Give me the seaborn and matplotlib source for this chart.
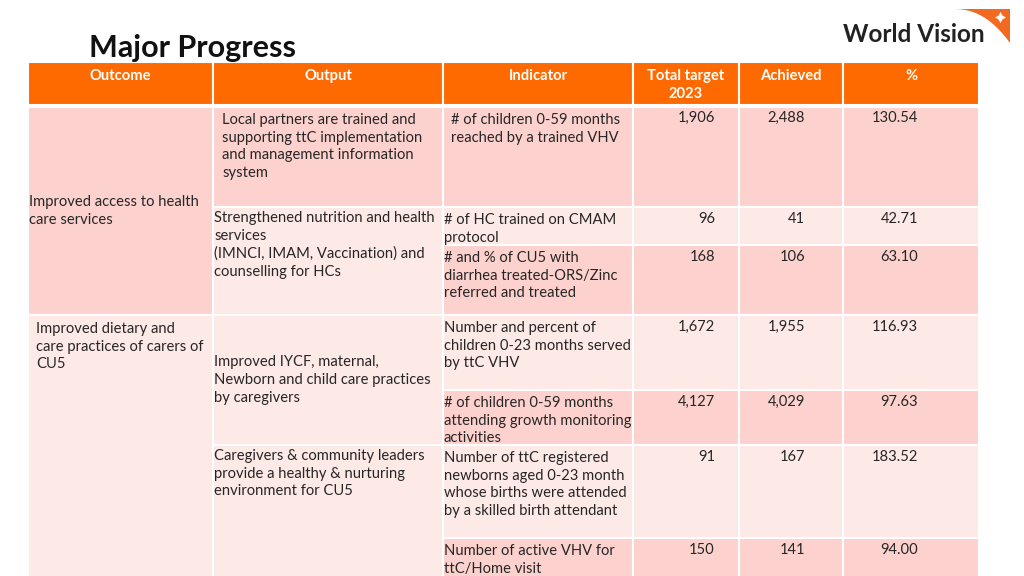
import numpy as np
import matplotlib
matplotlib.use("Agg")
import matplotlib.pyplot as plt
from matplotlib.patches import Polygon
import seaborn as sns

# table content
headers = ["Outcome", "Output", "Indicator", "Total target\n2023", "Achieved", "%"]
outcomes = ["Improved access to health\ncare services",
            "Improved dietary and\ncare practices of carers of\nCU5"]
outputs = ["Local partners are trained and\nsupporting ttC implementation\nand management information\nsystem",
           "Strengthened nutrition and health\nservices\n(IMNCI, IMAM, Vaccination) and\ncounselling for HCs",
           "Improved IYCF, maternal,\nNewborn and child care practices\nby caregivers",
           "Caregivers & community leaders\nprovide a healthy & nurturing\nenvironment for CU5"]
indicators = ["# of children 0-59 months\nreached by a trained VHV",
              "# of HC trained on CMAM\nprotocol",
              "# and % of CU5 with\ndiarrhea treated-ORS/Zinc\nreferred and treated",
              "Number and percent of\nchildren 0-23 months served\nby ttC VHV",
              "# of children 0-59 months\nattending growth monitoring\nactivities",
              "Number of ttC registered\nnewborns aged 0-23 month\nwhose births were attended\nby a skilled birth attendant",
              "Number of active VHV for\nttC/Home visit"]
targets = [1906, 96, 168, 1672, 4127, 91, 150]
achieved = [2488, 41, 106, 1955, 4029, 167, 141]
pct = [130.54, 42.71, 63.10, 116.93, 97.63, 183.52, 94.00]

# which rows each merged cell covers
outcome_rows = [(0, 2), (3, 6)]
output_rows = [(0, 0), (1, 2), (3, 4), (5, 6)]

# layout in pixel units
col_x = [28, 213, 443, 633, 739, 843, 979]
row_y = [107, 207, 245, 315, 390, 445, 538, 580]
head_y = (62, 105)

ORANGE = "#ff6a00"
DARK = "#fdd2ce"
LIGHT = "#fde9e6"
TXT = "#262626"
row_col = [DARK, LIGHT, DARK, LIGHT, DARK, LIGHT, DARK]

sns.set_theme(style="white")
plt.rcParams["font.family"] = ["Lato", "DejaVu Sans"]

fig = plt.figure(figsize=(10.24, 5.76), dpi=100)
ax = fig.add_axes([0, 0, 1, 1])
ax.set_xlim(0, 1024)
ax.set_ylim(576, 0)
ax.axis("off")

FS = 10.6
LS = 1.34


def cell(x0, x1, y0, y1, color):
    ax.bar(x0, y1 - y0, width=x1 - x0, bottom=y0, align="edge",
           color=color, edgecolor="white", linewidth=1.5)


# header
for i, h in enumerate(headers):
    cell(col_x[i], col_x[i + 1], head_y[0], head_y[1], ORANGE)
    ax.text((col_x[i] + col_x[i + 1]) / 2, 69, h, ha="center", va="top",
            color="white", fontsize=FS, fontweight="bold", linespacing=LS)

# indicator + numbers, one per row
for r in range(len(indicators)):
    y0, y1 = row_y[r], row_y[r + 1]
    for c in range(2, 6):
        cell(col_x[c], col_x[c + 1], y0, y1, row_col[r])
    pad = 8 if r == 0 else 1
    ax.text(col_x[2] + pad, y0 + 6, indicators[r], ha="left", va="top",
            color=TXT, fontsize=FS, linespacing=LS)
    ny = y0 + 4 if r == 0 else y0 + 5
    ax.text(715, ny, f"{targets[r]:,}", ha="right", va="top", color=TXT, fontsize=FS)
    ax.text(805, ny, f"{achieved[r]:,}", ha="right", va="top", color=TXT, fontsize=FS)
    ax.text(918, ny, f"{pct[r]:.2f}", ha="right", va="top", color=TXT, fontsize=FS)

# outcome column (merged cells)
for k, (a, b) in enumerate(outcome_rows):
    y0, y1 = row_y[a], row_y[b + 1]
    cell(col_x[0], col_x[1], y0, y1, row_col[a])
    if k == 0:
        ax.text(col_x[0] + 1, (y0 + y1) / 2, outcomes[k], ha="left", va="center",
                color=TXT, fontsize=FS, linespacing=LS)
    else:
        ax.text(col_x[0] + 8, y0 + 7, outcomes[k], ha="left", va="top",
                color=TXT, fontsize=FS, linespacing=LS)

# output column (merged cells)
for k, (a, b) in enumerate(output_rows):
    y0, y1 = row_y[a], row_y[b + 1]
    cell(col_x[1], col_x[2], y0, y1, row_col[a] if k == 0 else LIGHT)
    if k == 0:
        ax.text(col_x[1] + 9, y0 + 6, outputs[k], ha="left", va="top",
                color=TXT, fontsize=FS, linespacing=LS)
    elif k == 2:
        ax.text(col_x[1] + 1, (y0 + y1) / 2, outputs[k], ha="left", va="center",
                color=TXT, fontsize=FS, linespacing=LS)
    else:
        ax.text(col_x[1] + 1, y0 + 4, outputs[k], ha="left", va="top",
                color=TXT, fontsize=FS, linespacing=LS)

# title
ax.text(89, 57, "Major Progress", ha="left", va="baseline", color="#111111",
        fontsize=22, fontweight="bold")

# logo: orange swoosh with a small white star, then the wordmark
t = np.linspace(0, 1, 40)
arc = np.column_stack([953 + 57 * t, 9 + 34 * t ** 2.3])
wedge = np.vstack([arc, [[1010, 9]]])
ax.add_patch(Polygon(wedge, closed=True, color="#f26a21", lw=0))
ax.plot([1000], [17], marker=(4, 1, 0), color="white", markersize=8, mew=0)
ax.text(843, 42, "World Vision", ha="left", va="baseline", color="#222222",
        fontsize=17.5, fontweight="bold")

fig.savefig("out.png", dpi=100)
plt.close(fig)
